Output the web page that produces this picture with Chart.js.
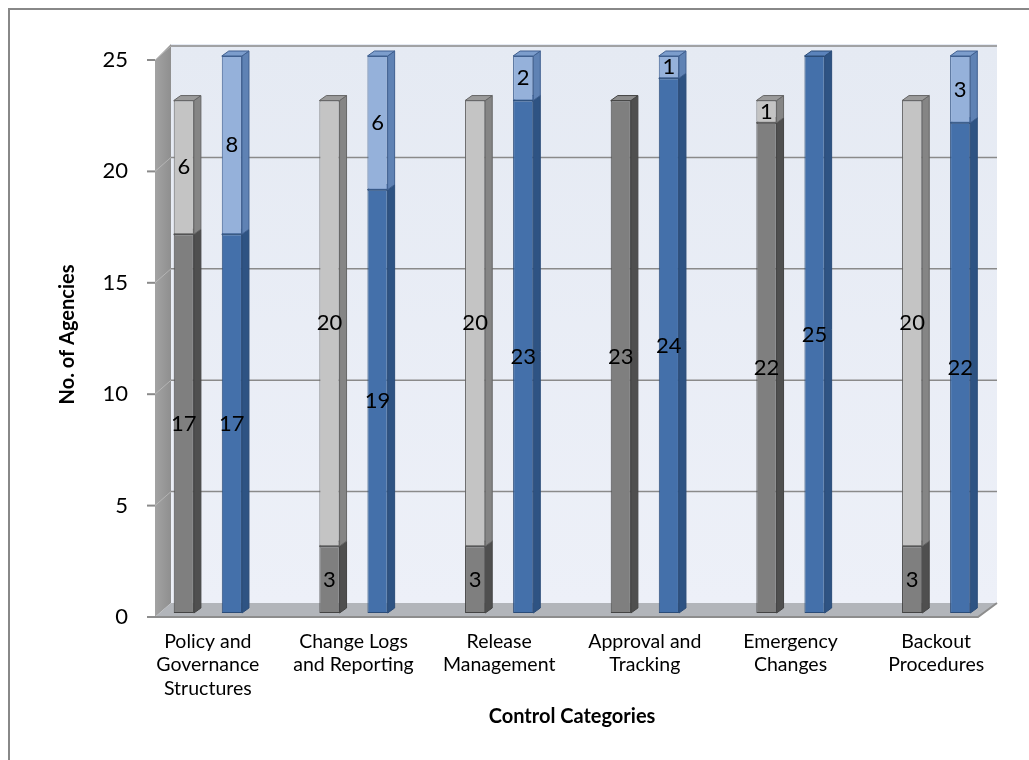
<!DOCTYPE html>
<html>
<head>
<meta charset="utf-8">
<script src="https://cdn.jsdelivr.net/npm/chart.js@4"></script>
<style>
  html, body { margin: 0; padding: 0; background: #fff; }
</style>
</head>
<body>
<canvas id="chart" width="1029" height="760"></canvas>
<script>
const categories = [
  ['Policy and', 'Governance', 'Structures'],
  ['Change Logs', 'and Reporting'],
  ['Release', 'Management'],
  ['Approval and', 'Tracking'],
  ['Emergency', 'Changes'],
  ['Backout', 'Procedures']
];
const grayLow = [17, 3, 3, 23, 22, 3];
const grayHigh = [6, 20, 20, 0, 1, 20];
const blueLow = [17, 19, 23, 24, 25, 22];
const blueHigh = [8, 6, 2, 1, 0, 3];
const yTicks = [0, 5, 10, 15, 20, 25];

// front / side / top colours for each segment
const faces = [
  { front: '#7f7f7f', side: '#4f4f4f', top: '#8c8c8c', edge: '#444' },
  { front: '#c4c4c4', side: '#858585', top: '#9a9a9a', edge: '#666' },
  { front: '#4470aa', side: '#2e5383', top: '#5b83bb', edge: '#2b4c78' },
  { front: '#95b1da', side: '#5f82b4', top: '#7c9dcc', edge: '#3f5f8f' }
];

const DX = 7, DY = 5;        // bar depth
const WALL_X = 16;           // wall depth
const FLOOR_RIGHT = 997;

const wallFrame = {
  id: 'wallFrame',
  beforeDraw(chart) {
    const { ctx, scales: { y } } = chart;
    const yf = v => y.getPixelForValue(v) + 4;
    const yb = v => y.getPixelForValue(v) - 10;
    const fx = 155, bx = fx + WALL_X, rx = FLOOR_RIGHT;
    const top = y.max;
    ctx.save();

    // outer frame
    ctx.strokeStyle = '#888';
    ctx.lineWidth = 2;
    ctx.strokeRect(9, 9, chart.width + 40, chart.height + 40);

    // back wall
    const g = ctx.createLinearGradient(0, yb(top), 0, yb(0));
    g.addColorStop(0, '#e5eaf3');
    g.addColorStop(1, '#edf0f8');
    ctx.fillStyle = g;
    ctx.fillRect(bx, yb(top) - 2, rx - bx, yb(0) - yb(top) + 2);

    // left wall
    const lg = ctx.createLinearGradient(fx, 0, bx, 0);
    lg.addColorStop(0, '#a3a3a3');
    lg.addColorStop(1, '#8f8f8f');
    ctx.fillStyle = lg;
    ctx.beginPath();
    ctx.moveTo(fx, yf(top));
    ctx.lineTo(bx, yb(top) - 2);
    ctx.lineTo(bx, yb(0));
    ctx.lineTo(fx, yf(0));
    ctx.closePath();
    ctx.fill();

    // grid lines on back wall, slant on left wall, front tick marks
    yTicks.forEach(v => {
      ctx.strokeStyle = '#8a8a8a';
      ctx.lineWidth = 1.5;
      if (v > 0) {
        ctx.beginPath();
        ctx.moveTo(bx, yb(v));
        ctx.lineTo(rx, yb(v));
        ctx.stroke();
        ctx.strokeStyle = 'rgba(200,200,200,0.6)';
        ctx.lineWidth = 1;
        ctx.beginPath();
        ctx.moveTo(fx, yf(v));
        ctx.lineTo(bx, yb(v));
        ctx.stroke();
      }
      ctx.strokeStyle = '#8a8a8a';
      ctx.lineWidth = 2;
      ctx.beginPath();
      ctx.moveTo(fx - 8, yf(v));
      ctx.lineTo(fx, yf(v));
      ctx.stroke();
    });

    // floor
    ctx.fillStyle = '#b2b5ba';
    ctx.beginPath();
    ctx.moveTo(fx, yf(0));
    ctx.lineTo(bx, yb(0));
    ctx.lineTo(rx, yb(0));
    ctx.lineTo(rx - 19, yf(0));
    ctx.closePath();
    ctx.fill();
    ctx.strokeStyle = '#8d8d8d';
    ctx.lineWidth = 2;
    ctx.beginPath();
    ctx.moveTo(fx - 8, yf(0));
    ctx.lineTo(rx - 19, yf(0));
    ctx.lineTo(rx, yb(0));
    ctx.stroke();
    ctx.restore();
  },

  // side and top faces, drawn before the fronts so stacked segments overlap properly
  beforeDatasetsDraw(chart) {
    const { ctx } = chart;
    ctx.save();
    chart.data.datasets.forEach((ds, di) => {
      const f = faces[di];
      chart.getDatasetMeta(di).data.forEach((el, i) => {
        if (!ds.data[i]) return;
        const x0 = el.x - el.width / 2, x1 = el.x + el.width / 2;
        const yt = el.y, ybase = el.base;
        ctx.lineWidth = 1;
        ctx.strokeStyle = f.edge;
        ctx.fillStyle = f.side;
        ctx.beginPath();
        ctx.moveTo(x1, ybase);
        ctx.lineTo(x1 + DX, ybase - DY);
        ctx.lineTo(x1 + DX, yt - DY);
        ctx.lineTo(x1, yt);
        ctx.closePath();
        ctx.fill();
        ctx.stroke();
        ctx.fillStyle = f.top;
        ctx.beginPath();
        ctx.moveTo(x0, yt);
        ctx.lineTo(x1, yt);
        ctx.lineTo(x1 + DX, yt - DY);
        ctx.lineTo(x0 + DX, yt - DY);
        ctx.closePath();
        ctx.fill();
        ctx.stroke();
      });
    });
    ctx.restore();
  },

  // value labels centred on each segment
  afterDatasetsDraw(chart) {
    const { ctx } = chart;
    ctx.save();
    ctx.fillStyle = '#000';
    ctx.font = '22px Lato';
    ctx.textAlign = 'center';
    ctx.textBaseline = 'middle';
    chart.data.datasets.forEach((ds, di) => {
      chart.getDatasetMeta(di).data.forEach((el, i) => {
        const v = ds.data[i];
        if (!v) return;
        ctx.fillText(String(v), el.x, (el.y + el.base) / 2);
      });
    });
    ctx.restore();
  }
};

const mkSet = (data, stack, f) => ({
  data, stack,
  backgroundColor: f.front,
  borderColor: f.edge,
  borderWidth: 1,
  borderSkipped: false,
  categoryPercentage: 0.66,
  barPercentage: 0.42
});

new Chart(document.getElementById('chart'), {
  type: 'bar',
  data: {
    labels: categories,
    datasets: [
      mkSet(grayLow, 'gray', faces[0]),
      mkSet(grayHigh, 'gray', faces[1]),
      mkSet(blueLow, 'blue', faces[2]),
      mkSet(blueHigh, 'blue', faces[3])
    ]
  },
  options: {
    responsive: false,
    animation: false,
    layout: { padding: { top: 56, right: 20, bottom: 0, left: 0 } },
    plugins: { legend: { display: false }, tooltip: { enabled: false } },
    scales: {
      x: {
        stacked: true,
        grid: { display: false, drawTicks: false },
        border: { display: false },
        ticks: {
          color: '#000',
          font: { family: 'Lato', size: 19.5 },
          padding: 17,
          maxRotation: 0,
          autoSkip: false
        },
        title: {
          display: true,
          text: 'Control Categories',
          color: '#000',
          font: { family: 'Lato', size: 20, weight: 'bold' },
          padding: { top: 0, bottom: 31 }
        },
        afterFit(s) { s.height = 147; }
      },
      y: {
        stacked: true,
        min: 0,
        max: 25,
        grid: { display: false, drawTicks: false },
        border: { display: false },
        afterBuildTicks(s) { s.ticks = yTicks.map(v => ({ value: v })); },
        ticks: {
          color: '#000',
          font: { family: 'Lato', size: 22 },
          padding: 7,
          labelOffset: 4
        },
        title: {
          display: true,
          text: 'No. of Agencies',
          color: '#000',
          font: { family: 'Lato', size: 20, weight: 'bold' },
          padding: { top: 56, bottom: 0 }
        },
        afterFit(s) { s.width = 135; }
      }
    }
  },
  plugins: [wallFrame]
});
</script>
</body>
</html>
